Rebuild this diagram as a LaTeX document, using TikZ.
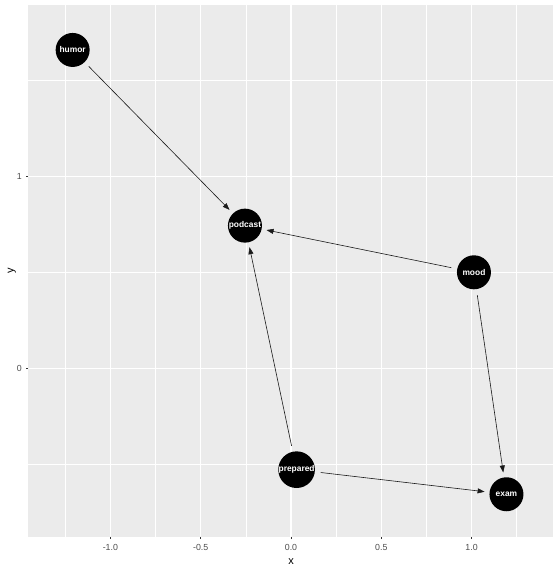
\documentclass[tikz,border=0pt]{standalone}
\usepackage{fontspec}
\setmainfont{Liberation Sans}
\usetikzlibrary{arrows.meta}
\definecolor{panelbg}{HTML}{EBEBEB}
\definecolor{ticktext}{HTML}{4D4D4D}
\definecolor{tickline}{HTML}{333333}
\definecolor{edgecol}{HTML}{1A1A1A}
\begin{document}
\begin{tikzpicture}[x=180.6pt,y=192pt,
  dagnode/.style={circle,fill=black,minimum size=34pt,inner sep=0pt,outer sep=0pt,text=white,font=\fontsize{8.4}{9}\selectfont\bfseries},
  dagedge/.style={draw=edgecol,line width=0.6pt,-{Triangle[length=7pt,width=5pt]},shorten <=6pt,shorten >=5pt},
  majorgrid/.style={draw=white,line width=1.1pt},
  minorgrid/.style={draw=white,line width=0.55pt},
  ticklab/.style={text=ticktext,font=\fontsize{8.8}{10}\selectfont,inner sep=0pt},
  axtitle/.style={text=black,font=\fontsize{11}{12}\selectfont,inner sep=0pt},
  tickmark/.style={draw=tickline,line width=0.55pt}
]
\useasboundingbox[fill=white] (-1.6113,-1.0453) rectangle (1.4563,1.9182);
% panel
\fill[panelbg] (-1.454,-0.8771) rectangle (1.451,1.8906);
% minor grid
\foreach \gx in {-1.25,-0.75,-0.25,0.25,0.75,1.25}
  \draw[minorgrid] (\gx,-0.8771) -- (\gx,1.8906);
\foreach \gy in {-0.5,0.5,1.5}
  \draw[minorgrid] (-1.454,\gy) -- (1.451,\gy);
% major grid
\foreach \gx in {-1,-0.5,0,0.5,1}
  \draw[majorgrid] (\gx,-0.8771) -- (\gx,1.8906);
\foreach \gy in {0,1}
  \draw[majorgrid] (-1.454,\gy) -- (1.451,\gy);
% ticks and labels
\foreach \gx/\lab in {-1/-1.0,-0.5/-0.5,0/0.0,0.5/0.5,1/1.0} {
  \draw[tickmark] (\gx,-0.8771) -- ++(0,-2.75pt);
  \node[ticklab] (xl\lab) at (\gx,-0.934) {\lab};
}
\foreach \gy in {0,1} {
  \draw[tickmark] (-1.454,\gy) -- ++(-2.75pt,0);
  \node[ticklab,anchor=east] (yl\gy) at (-1.4895,\gy) {\gy};
}
\node[axtitle] (xtitle) at (0,-1.006) {x};
\node[axtitle,rotate=90] (ytitle) at (-1.545,0.507) {y};
% nodes
\node[dagnode] (humor) at (-1.209,1.658) {humor};
\node[dagnode] (podcast) at (-0.255,0.743) {podcast};
\node[dagnode] (prepared) at (0.031,-0.528) {prepared};
\node[dagnode] (exam) at (1.193,-0.656) {exam};
\node[dagnode] (mood) at (1.013,0.500) {mood};
% edges
\draw[dagedge] (humor) -- (podcast);
\draw[dagedge] (mood) -- (podcast);
\draw[dagedge] (prepared) -- (podcast);
\draw[dagedge] (mood) -- (exam);
\draw[dagedge] (prepared) -- (exam);
\end{tikzpicture}
\end{document}
